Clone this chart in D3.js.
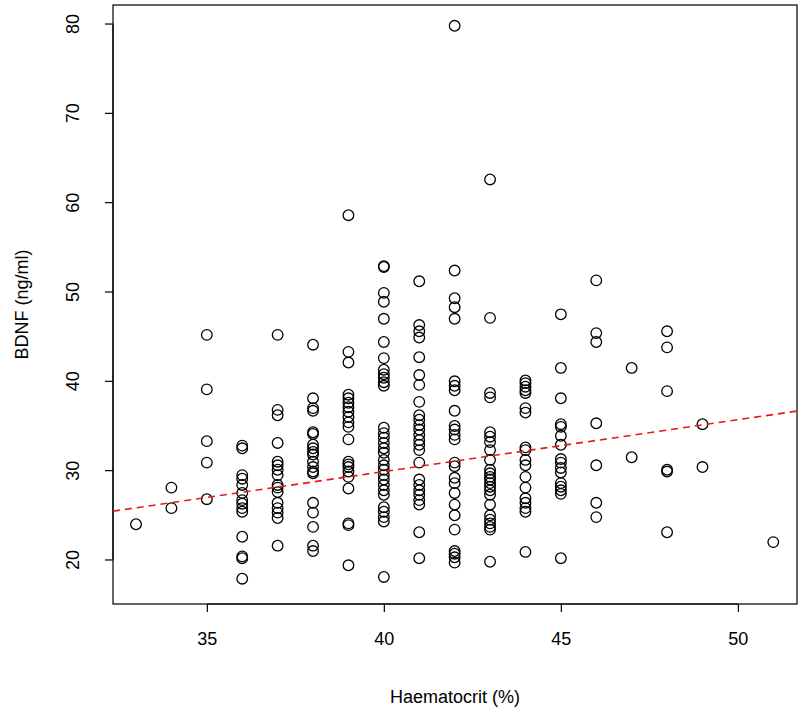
<!DOCTYPE html>
<html><head><meta charset="utf-8">
<script src="https://cdn.jsdelivr.net/npm/d3@7"></script>
<style>body{margin:0;background:#fff}svg{display:block}text{font-family:"Liberation Sans",Arial,sans-serif;fill:#000}</style>
</head><body><svg id="c" width="800" height="719"></svg>
<script>
const hctLevels = [33,34,35,36,37,38,39,40,41,42,43,44,45,46,47,48,49,51];
const bdnfByLevel = [
 [24.0],
 [28.1,25.8],
 [45.2,39.1,33.3,30.9,26.8],
 [32.8,32.5,29.5,29.1,28.4,27.5,26.7,26.3,25.8,25.4,22.6,20.4,20.2,17.9],
 [45.2,36.8,36.2,33.1,31.0,30.6,30.1,29.5,28.4,28.1,27.6,26.4,25.8,25.3,24.7,21.6],
 [44.1,38.1,37.0,36.7,34.3,34.1,32.9,32.5,32.1,31.8,31.0,30.4,29.9,29.7,26.4,25.3,23.7,21.6,21.0],
 [58.6,43.3,42.1,38.5,38.1,37.6,37.1,36.6,36.0,35.4,34.9,33.5,31.0,30.7,30.4,29.9,29.3,28.0,24.1,23.9,19.4],
 [52.9,52.8,49.9,48.9,47.0,44.4,42.6,41.3,40.8,40.4,39.9,39.5,34.8,34.2,33.7,33.1,32.5,32.0,31.2,30.6,30.1,29.5,29.0,28.4,27.8,27.3,25.9,25.4,24.8,24.3,18.1],
 [51.2,46.3,45.6,44.9,42.7,40.7,39.6,37.7,36.2,35.7,35.1,34.6,34.0,33.4,32.9,32.3,30.9,29.0,28.4,27.8,27.3,26.7,26.2,23.1,20.2],
 [79.8,52.4,49.3,48.3,47.0,40.0,39.5,39.0,36.7,35.0,34.6,34.0,33.5,30.9,30.5,29.2,28.6,27.5,26.2,25.0,23.4,21.0,20.7,20.3,19.7],
 [62.6,47.1,38.7,38.2,34.3,33.8,33.2,32.3,31.2,30.1,29.7,29.3,29.0,28.6,28.2,27.8,27.3,26.2,25.0,24.5,24.1,23.7,23.4,19.8],
 [40.1,39.8,39.4,39.0,38.7,37.0,36.5,32.6,32.3,31.2,30.6,29.3,28.1,26.9,26.4,25.8,25.4,20.9],
 [47.5,41.5,38.1,35.2,34.9,33.9,32.9,31.3,30.9,30.3,29.8,28.6,28.2,27.8,27.4,20.2],
 [51.3,45.4,44.4,35.3,30.6,26.4,24.8],
 [41.5,31.5],
 [45.6,43.8,38.9,30.1,29.9,23.1],
 [35.2,30.4],
 [22.0]
];
const xTicks = [35,40,45,50];
const yTicks = [20,30,40,50,60,70,80];
const fitCoef = [6.7, 0.58]; // intercept, slope
const xTitle = "Haematocrit (%)";
const yTitle = "BDNF (ng/ml)";

const points = [];
hctLevels.forEach((h,i)=>bdnfByLevel[i].forEach(v=>points.push({h,v})));

const L=113,R=797,T=5,B=604;
const FS=18;
const x = d3.scaleLinear().domain([32.35,51.67]).range([L,R]);
const y = d3.scaleLinear().domain([15.07,82.13]).range([B,T]);
const svg = d3.select("#c");

svg.append("rect").attr("x",L).attr("y",T).attr("width",R-L).attr("height",B-T)
  .attr("fill","none").attr("stroke","#000").attr("stroke-width",1.2);

const xa = svg.append("g").attr("transform",`translate(0,${B})`)
  .call(d3.axisBottom(x).tickValues(xTicks).tickSize(8).tickPadding(20).tickFormat(d3.format("d")));
xa.select(".domain").attr("d",`M${x(35)},0H${x(50)}`).attr("stroke-width",1.2);
xa.selectAll("text").attr("font-size",FS).style("font-family","Liberation Sans, Arial, sans-serif");
xa.selectAll("line").attr("stroke-width",1.2);

const ya = svg.append("g").attr("transform",`translate(${L},0)`)
  .call(d3.axisLeft(y).tickValues(yTicks).tickSize(8).tickFormat(d3.format("d")));
ya.select(".domain").attr("d",`M0,${y(20)}V${y(80)}`).attr("stroke-width",1.2);
ya.selectAll("line").attr("stroke-width",1.2);
ya.selectAll("text").attr("font-size",FS).style("font-family","Liberation Sans, Arial, sans-serif")
  .attr("text-anchor","middle").attr("x",0).attr("dy",0)
  .attr("transform",d=>`translate(-40,${y(d)}) rotate(-90)`).attr("y",0)
  .attr("dominant-baseline","central");
ya.selectAll(".tick").attr("transform",null);
ya.selectAll(".tick line").attr("transform",d=>`translate(0,${y(d)})`);

svg.append("text").attr("x",(L+R)/2).attr("y",703).attr("text-anchor","middle")
  .attr("font-size",FS).text(xTitle);
svg.append("text").attr("transform",`translate(28,${(T+B)/2}) rotate(-90)`)
  .attr("text-anchor","middle").attr("font-size",FS).text(yTitle);

svg.append("g").selectAll("circle").data(points).join("circle")
  .attr("cx",d=>x(d.h)).attr("cy",d=>y(d.v)).attr("r",5.3)
  .attr("fill","none").attr("stroke","#000").attr("stroke-width",1.3);

const xd = x.domain();
svg.append("line")
  .attr("x1",x(xd[0])).attr("y1",y(fitCoef[0]+fitCoef[1]*xd[0]))
  .attr("x2",x(xd[1])).attr("y2",y(fitCoef[0]+fitCoef[1]*xd[1]))
  .attr("stroke","#e31a1c").attr("stroke-width",1.6).attr("stroke-dasharray","7,5");
</script></body></html>
